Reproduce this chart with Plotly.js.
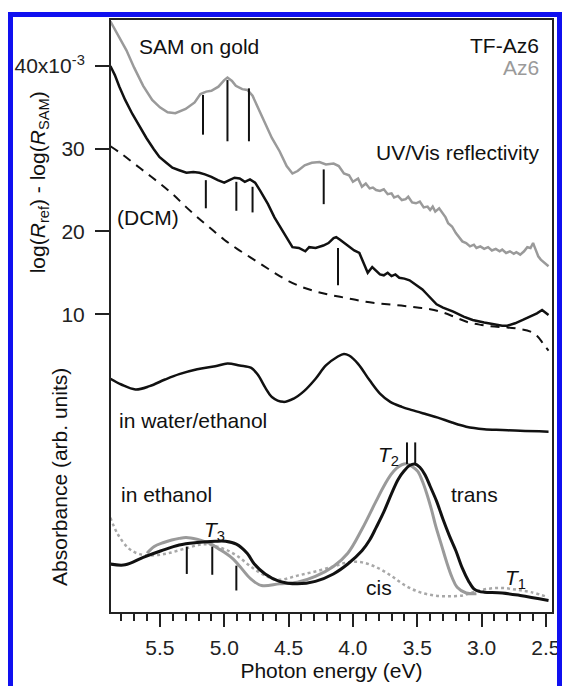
<!DOCTYPE html>
<html>
<head>
<meta charset="utf-8">
<script src="https://cdn.plot.ly/plotly-3.0.1.min.js"></script>
<style>html,body{margin:0;padding:0;background:#fff;}#plot{width:563px;height:686px;}</style>
</head>
<body>
<div id="plot"></div>
<script>
// ---------- data (photon energy in eV, signal in 10^-3 / arb. units) ----------
const az6ReflE = [5.885,5.82,5.76,5.70,5.63,5.56,5.50,5.44,5.38,5.30,5.23,5.185,5.14,5.10,5.045,5.00,4.975,4.94,4.91,4.86,4.82,4.78,4.74,4.68,4.63,4.57,4.515,4.47,4.43,4.375,4.32,4.26,4.21,4.15,4.11,4.07,4.03,4.00,3.96,3.93,3.90,3.87,3.845,3.82,3.79,3.76,3.73,3.70,3.68,3.65,3.62,3.59,3.57,3.54,3.51,3.48,3.45,3.42,3.40,3.38,3.36,3.33,3.31,3.28,3.26,3.23,3.20,3.17,3.15,3.12,3.09,3.06,3.04,3.01,2.98,2.95,2.92,2.89,2.86,2.84,2.81,2.78,2.75,2.73,2.70,2.67,2.645,2.62,2.60,2.59,2.575,2.56,2.54,2.52,2.50,2.48];
const az6ReflV = [45.4,43.6,41.9,39.8,37.6,35.9,35.0,34.4,34.3,34.8,35.6,36.6,36.9,37.0,37.5,38.3,38.6,38.2,37.6,37.2,37.1,36.4,35.0,33.0,31.3,29.7,27.9,27.0,27.3,28.0,28.3,28.4,28.1,28.2,27.9,27.0,26.8,26.0,26.4,25.4,25.8,25.2,25.3,25.0,24.9,25.1,24.5,24.6,24.1,24.3,23.8,23.9,24.2,23.5,23.4,23.6,22.9,23.0,22.6,23.0,22.4,22.8,22.4,21.7,21.0,20.6,19.8,19.2,18.8,18.6,18.2,18.4,18.0,18.2,17.9,18.1,17.7,17.9,17.6,17.8,17.4,17.6,17.3,17.5,17.2,17.6,18.1,18.0,18.6,18.2,17.5,17.0,16.6,16.3,16.0,15.8];

const tfReflE = [5.885,5.85,5.815,5.77,5.714,5.66,5.605,5.55,5.504,5.45,5.403,5.35,5.294,5.24,5.193,5.15,5.10,5.05,5.00,4.96,4.92,4.88,4.84,4.80,4.76,4.72,4.66,4.61,4.55,4.51,4.47,4.42,4.37,4.34,4.29,4.23,4.19,4.15,4.13,4.10,4.06,4.02,3.99,3.95,3.92,3.885,3.85,3.82,3.79,3.76,3.73,3.70,3.67,3.64,3.60,3.56,3.51,3.46,3.43,3.39,3.35,3.30,3.22,3.14,3.07,2.98,2.91,2.84,2.80,2.74,2.68,2.62,2.57,2.53,2.50,2.48];
const tfReflV = [40.0,38.9,37.5,35.9,34.2,32.7,31.3,30.0,29.0,28.3,27.7,27.4,27.1,27.2,27.1,26.9,26.6,26.2,25.9,26.2,26.5,26.4,26.0,26.3,25.9,24.9,23.3,21.7,20.1,19.1,18.1,18.0,17.6,18.1,18.0,18.3,18.6,19.2,19.3,19.0,18.5,18.0,17.7,17.4,16.2,15.0,15.7,15.2,14.8,14.7,15.0,14.6,14.8,14.4,14.3,14.1,13.6,13.0,12.5,11.8,11.2,10.8,10.3,9.7,9.3,9.0,8.8,8.6,8.6,8.9,9.3,9.7,10.1,10.5,10.2,9.9];

const dcmE = [5.885,5.80,5.70,5.60,5.50,5.40,5.30,5.20,5.10,5.00,4.90,4.80,4.70,4.60,4.50,4.40,4.30,4.20,4.10,4.00,3.90,3.80,3.70,3.60,3.50,3.40,3.30,3.20,3.10,3.00,2.90,2.80,2.70,2.62,2.57,2.52,2.48];
const dcmV = [30.3,29.4,28.2,27.0,25.8,24.5,23.0,21.6,20.3,19.0,17.9,16.9,15.9,14.9,14.0,13.3,12.8,12.4,12.1,11.8,11.5,11.3,11.15,11.0,10.8,10.6,10.2,9.6,9.0,8.7,8.5,8.4,8.2,7.9,7.4,6.4,5.6];

const waterE = [5.885,5.80,5.69,5.58,5.46,5.35,5.21,5.07,4.975,4.88,4.79,4.74,4.68,4.63,4.54,4.46,4.38,4.29,4.21,4.12,4.07,4.03,3.96,3.87,3.79,3.71,3.62,3.54,3.43,3.34,3.23,3.12,2.98,2.84,2.70,2.48];
const waterV = [2.2,1.5,0.9,1.3,2.1,2.75,3.35,3.7,4.05,3.8,3.5,2.7,1.1,0.0,-0.6,-0.2,0.7,2.2,3.8,4.85,5.2,5.0,4.0,2.0,0.4,-0.6,-1.2,-1.6,-2.1,-2.5,-3.1,-3.6,-3.9,-4.0,-4.1,-4.2];

const cisE = [5.885,5.827,5.743,5.659,5.547,5.436,5.296,5.157,5.017,4.906,4.794,4.682,4.571,4.431,4.292,4.152,4.040,3.929,3.817,3.705,3.594,3.482,3.370,3.259,3.147,3.064,2.952,2.840,2.729,2.617,2.483];
const cisV = [-14.6,-16.6,-18.3,-19.0,-19.15,-18.9,-18.3,-17.8,-18.3,-19.15,-20.5,-21.6,-22.1,-21.6,-21.1,-20.5,-20.0,-20.0,-20.6,-21.6,-22.8,-23.6,-24.0,-24.1,-24.0,-23.6,-23.2,-23.1,-23.3,-23.6,-24.2];

const az6TransE = [5.60,5.547,5.47,5.408,5.35,5.296,5.213,5.15,5.101,5.04,4.989,4.93,4.878,4.794,4.71,4.571,4.431,4.292,4.152,4.04,3.93,3.82,3.76,3.705,3.66,3.62,3.58,3.54,3.496,3.46,3.426,3.39,3.357,3.31,3.273,3.23,3.19,3.12,3.04];
const az6TransV = [-18.9,-18.1,-17.6,-17.3,-17.1,-17.0,-17.2,-17.5,-17.8,-18.4,-18.9,-19.6,-20.5,-22.0,-22.8,-22.6,-22.4,-21.7,-20.5,-18.9,-16.0,-12.6,-10.8,-9.4,-8.6,-8.2,-8.1,-8.4,-9.0,-10.2,-11.7,-13.6,-15.6,-18.0,-19.9,-21.8,-23.0,-23.7,-23.8];

const tfTransE = [5.885,5.77,5.63,5.49,5.35,5.21,5.07,4.99,4.906,4.822,4.766,4.682,4.571,4.431,4.292,4.152,4.04,3.93,3.87,3.82,3.76,3.70,3.65,3.60,3.56,3.52,3.48,3.44,3.40,3.35,3.30,3.25,3.20,3.15,3.10,3.06,3.02,2.98,2.84,2.70,2.48];
const tfTransV = [-20.2,-20.3,-19.4,-18.6,-17.9,-17.6,-17.45,-17.45,-17.8,-18.9,-20.2,-21.4,-22.3,-22.6,-22.3,-21.4,-20.2,-18.6,-17.3,-15.8,-13.9,-11.7,-10.0,-8.9,-8.3,-8.1,-8.5,-9.4,-10.8,-12.6,-14.8,-16.8,-18.6,-20.7,-22.3,-23.2,-23.5,-23.6,-23.7,-24.0,-24.6];

// vertical marker bars: energy, top, bottom
const barE   = [5.165,4.975,4.808,4.227, 5.143,4.906,4.780,4.116, 5.291,5.093,4.906, 3.580,3.516];
const barTop = [36.5,38.3,37.3,27.5, 26.2,26.0,25.4,18.0, -18.1,-18.1,-20.4, -5.5,-5.5];
const barBot = [31.7,30.9,30.9,23.3, 22.8,22.5,22.3,13.5, -21.4,-21.5,-23.4, -8.1,-8.1];

const xTickVals = [5.5,5.0,4.5,4.0,3.5,3.0,2.5];
const xTickText = ['5.5','5.0','4.5','4.0','3.5','3.0','2.5'];
const yTickVals = [10,20,30,40];
const yTickText = ['10','20','30','40x10<sup>-3</sup>'];

// ---------- drawing ----------
const FONT = 'Liberation Sans, Arial, Helvetica, sans-serif';
const BLACK = '#111111', GRAY = '#9a9a9a';

const barX = [], barY = [];
barE.forEach((e, i) => { barX.push(e, e, null); barY.push(barTop[i], barBot[i], null); });

const traces = [
  {x: cisE, y: cisV, mode: 'lines', line: {color: '#a8a8a8', width: 2.5, dash: 'dot', shape: 'spline'}},
  {x: az6TransE, y: az6TransV, mode: 'lines', line: {color: GRAY, width: 3, shape: 'spline'}},
  {x: tfTransE, y: tfTransV, mode: 'lines', line: {color: BLACK, width: 3, shape: 'spline'}},
  {x: waterE, y: waterV, mode: 'lines', line: {color: BLACK, width: 2.5, shape: 'spline'}},
  {x: dcmE, y: dcmV, mode: 'lines', line: {color: BLACK, width: 2, dash: '9px,7px', shape: 'spline'}},
  {x: az6ReflE, y: az6ReflV, mode: 'lines', line: {color: GRAY, width: 2.5}},
  {x: tfReflE, y: tfReflV, mode: 'lines', line: {color: BLACK, width: 2.5}},
  {x: barX, y: barY, mode: 'lines', line: {color: BLACK, width: 2}, connectgaps: false}
];

const txt = (text, x, y, xa, extra) => Object.assign({
  text: text, x: x, y: y, xref: 'x', yref: 'y', xanchor: xa, yanchor: 'middle',
  showarrow: false, font: {family: FONT, size: 21, color: BLACK}
}, extra || {});

const annotations = [
  txt('SAM on gold', 5.675, 42.3, 'left'),
  txt('TF-Az6', 2.536, 42.5, 'right'),
  txt('Az6', 2.536, 39.8, 'right', {font: {family: FONT, size: 21, color: GRAY}}),
  txt('UV/Vis reflectivity', 2.536, 29.6, 'right'),
  txt('(DCM)', 5.589, 21.7, 'center'),
  txt('in water/ethanol', 5.83, -2.8, 'left'),
  txt('in ethanol', 5.815, -11.8, 'left'),
  txt('<i>T</i><sub>3</sub>', 5.17, -16.2, 'left'),
  txt('<i>T</i><sub>2</sub>', 3.818, -7.2, 'left'),
  txt('trans', 3.057, -11.8, 'center'),
  txt('cis', 3.795, -23.0, 'center'),
  txt('<i>T</i><sub>1</sub>', 2.831, -22.0, 'left'),
  {text: 'log(<i>R</i><sub>ref</sub>) - log(<i>R</i><sub>SAM</sub>)', xref: 'paper', yref: 'paper',
   x: -0.163, y: 0.726, xanchor: 'center', yanchor: 'middle', textangle: -90, showarrow: false,
   font: {family: FONT, size: 21, color: BLACK}},
  {text: 'Absorbance (arb. units)', xref: 'paper', yref: 'paper',
   x: -0.118, y: 0.228, xanchor: 'center', yanchor: 'middle', textangle: -90, showarrow: false,
   font: {family: FONT, size: 21, color: BLACK}}
];

const layout = {
  width: 563, height: 686,
  margin: {l: 111, r: 11, t: 20, b: 74, pad: 0},
  paper_bgcolor: '#ffffff', plot_bgcolor: '#ffffff',
  showlegend: false,
  font: {family: FONT, size: 21, color: BLACK},
  xaxis: {
    range: [5.88, 2.453], tickmode: 'array', tickvals: xTickVals, ticktext: xTickText,
    ticks: 'outside', ticklen: 13, tickwidth: 2, tickcolor: '#222',
    minor: {tickmode: 'linear', tick0: 2.5, dtick: 0.1, ticks: 'outside', ticklen: 7, tickwidth: 2, tickcolor: '#222', showgrid: false},
    showline: true, linecolor: '#222', linewidth: 2, mirror: true,
    showgrid: false, zeroline: false, ticklabelstandoff: 3,
    tickfont: {family: FONT, size: 21, color: '#222'},
    title: {text: 'Photon energy (eV)', font: {family: FONT, size: 21, color: BLACK}, standoff: 0},
    automargin: false
  },
  yaxis: {
    range: [-26.0, 45.56], tickmode: 'array', tickvals: yTickVals, ticktext: yTickText,
    ticks: 'outside', ticklen: 14, tickwidth: 2, tickcolor: '#222',
    showline: true, linecolor: '#222', linewidth: 2, mirror: true,
    showgrid: false, zeroline: false, ticklabelstandoff: 6,
    tickfont: {family: FONT, size: 21, color: '#222'},
    automargin: false
  },
  annotations: annotations,
  shapes: [{
    type: 'rect', xref: 'paper', yref: 'paper',
    x0: -0.2279, x1: 1.0170, y0: -0.135, y1: 1.0093,
    line: {color: '#1010f0', width: 5}, fillcolor: 'rgba(0,0,0,0)', layer: 'above'
  }]
};

Plotly.newPlot('plot', traces, layout, {staticPlot: true, displayModeBar: false});
</script>
</body>
</html>
